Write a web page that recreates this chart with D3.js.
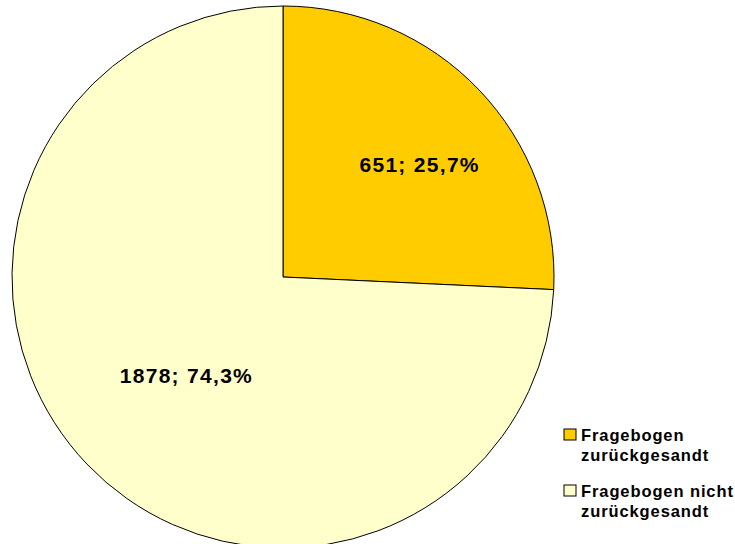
<!DOCTYPE html>
<html>
<head>
<meta charset="utf-8">
<script src="https://cdn.jsdelivr.net/npm/d3@7"></script>
<style>
  body { margin: 0; background: #fff; }
  text { font-family: "Liberation Sans", Arial, sans-serif; font-weight: bold; fill: #000; }
</style>
</head>
<body>
<svg id="chart" width="735" height="544"></svg>
<script>
// data
const categories = ['Fragebogen zurückgesandt', 'Fragebogen nicht zurückgesandt']
const legendLines = [['Fragebogen', 'zurückgesandt'], ['Fragebogen nicht', 'zurückgesandt']]
const counts = [651, 1878]
const percents = ['25,7%', '74,3%']
const colours = ['#FFCC00', '#FFFFCC']

const svg = d3.select('#chart')
const cx = 283
const cy = 277
const radius = 271

// label nudges (Excel places them off the centroid a bit)
const labelShift = [[19, 0], [21, -14]]

const pie = d3.pie().sort(null).value(d => d)
const arcs = pie(counts)

const arc = d3.arc().innerRadius(0).outerRadius(radius)
const labelArc = d3.arc().innerRadius(radius * 0.6).outerRadius(radius * 0.6)

const g = svg.append('g').attr('transform', `translate(${cx},${cy})`)

g.selectAll('path')
  .data(arcs)
  .enter().append('path')
    .attr('d', arc)
    .attr('fill', (d, i) => colours[i])
    .attr('stroke', '#000')
    .attr('stroke-width', 1)

g.selectAll('text.label')
  .data(arcs)
  .enter().append('text')
    .attr('class', 'label')
    .attr('transform', (d, i) => {
      const [x, y] = labelArc.centroid(d)
      return `translate(${x + labelShift[i][0]},${y + labelShift[i][1]})`
    })
    .attr('text-anchor', 'middle')
    .attr('dy', '0.35em')
    .style('font-size', '21px')
    .style('letter-spacing', '1.3px')
    .text((d, i) => `${counts[i]}; ${percents[i]}`)

// legend
const legend = svg.append('g').attr('transform', 'translate(564,429)')
const item = legend.selectAll('g')
  .data(categories)
  .enter().append('g')
    .attr('transform', (d, i) => `translate(0,${i * 56})`)

item.append('rect')
  .attr('width', 12)
  .attr('height', 11)
  .attr('fill', (d, i) => colours[i])
  .attr('stroke', '#000')
  .attr('stroke-width', 1)

item.append('text')
  .attr('y', 11.5)
  .style('font-size', '16.5px')
  .style('letter-spacing', '0.9px')
  .selectAll('tspan')
  .data((d, i) => legendLines[i])
  .enter().append('tspan')
    .attr('x', 17)
    .attr('dy', (d, j) => j === 0 ? 0 : 20)
    .text(d => d)
</script>
</body>
</html>
